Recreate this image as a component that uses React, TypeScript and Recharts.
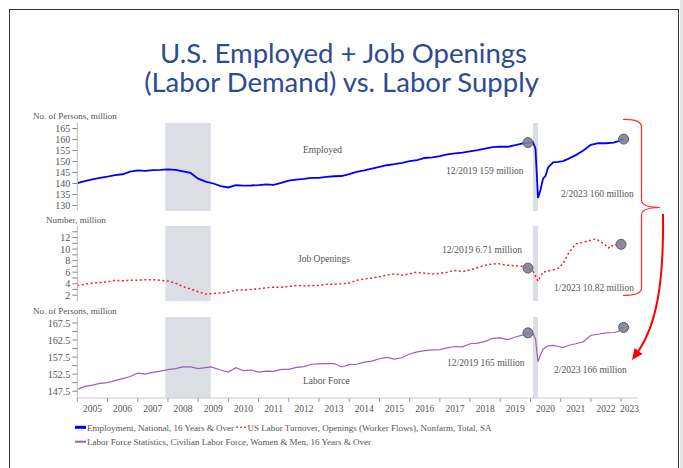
import { LineChart, Line, XAxis, YAxis, ReferenceArea, ReferenceDot } from 'recharts'

// monthly readings (YYYY-MM), millions
const empDates = [
  '2005-01', '2005-04', '2005-07', '2005-10', '2006-01', '2006-04', '2006-07', '2006-10',
  '2007-01', '2007-04', '2007-07', '2007-10', '2008-01', '2008-04', '2008-07', '2008-10',
  '2009-01', '2009-04', '2009-07', '2009-10', '2010-01', '2010-04', '2010-07', '2010-10',
  '2011-01', '2011-04', '2011-07', '2011-10', '2012-01', '2012-04', '2012-07', '2012-10',
  '2013-01', '2013-04', '2013-07', '2013-10', '2014-01', '2014-04', '2014-07', '2014-10',
  '2015-01', '2015-04', '2015-07', '2015-10', '2016-01', '2016-04', '2016-07', '2016-10',
  '2017-01', '2017-04', '2017-07', '2017-10', '2018-01', '2018-04', '2018-07', '2018-10',
  '2019-01', '2019-04', '2019-07', '2019-10', '2019-12', '2020-02', '2020-03', '2020-04',
  '2020-05', '2020-06', '2020-07', '2020-08', '2020-10', '2020-12', '2021-02', '2021-04',
  '2021-07', '2021-10', '2022-01', '2022-04', '2022-07', '2022-10', '2022-12', '2023-01', '2023-02',
]
const empValues = [
  140.2, 141.1, 141.9, 142.6, 143.1, 143.8, 144.2, 145.4,
  146.0, 145.7, 146.1, 146.2, 146.4, 146.2, 145.5, 144.8,
  142.2, 140.9, 140.0, 138.8, 138.2, 139.2, 139.0, 139.1,
  139.3, 139.6, 139.4, 140.3, 141.3, 141.8, 142.1, 142.6,
  142.6, 143.0, 143.3, 143.4, 144.3, 145.3, 146.0, 146.8,
  147.6, 148.3, 148.8, 149.4, 150.2, 150.6, 151.6, 151.9,
  152.4, 153.2, 153.7, 154.0, 154.6, 155.2, 155.9, 156.5,
  156.8, 156.7, 157.4, 158.2, 158.6, 158.8, 155.8, 133.4,
  137.2, 142.2, 143.5, 147.3, 149.6, 149.8, 150.2, 151.2,
  152.9, 155.0, 157.6, 158.3, 158.3, 158.6, 159.3, 159.8, 160.2,
]

const openDates = [
  '2005-01', '2005-04', '2005-07', '2005-10', '2006-01', '2006-04', '2006-07', '2006-10',
  '2007-01', '2007-04', '2007-07', '2007-10', '2008-01', '2008-04', '2008-07', '2008-10',
  '2009-01', '2009-04', '2009-07', '2009-10', '2010-01', '2010-04', '2010-07', '2010-10',
  '2011-01', '2011-04', '2011-07', '2011-10', '2012-01', '2012-04', '2012-07', '2012-10',
  '2013-01', '2013-04', '2013-07', '2013-10', '2014-01', '2014-04', '2014-07', '2014-10',
  '2015-01', '2015-04', '2015-07', '2015-10', '2016-01', '2016-04', '2016-07', '2016-10',
  '2017-01', '2017-04', '2017-07', '2017-10', '2018-01', '2018-04', '2018-07', '2018-10',
  '2018-12', '2019-01', '2019-04', '2019-07', '2019-10', '2019-12', '2020-02', '2020-04',
  '2020-06', '2020-08', '2020-10', '2020-12', '2021-02', '2021-04', '2021-07', '2021-10',
  '2021-12', '2022-03', '2022-05', '2022-06', '2022-08', '2022-09', '2022-10', '2022-12', '2023-01',
]
const openValues = [
  3.7, 3.9, 4.1, 4.2, 4.3, 4.6, 4.5, 4.6,
  4.6, 4.7, 4.7, 4.6, 4.45, 4.1, 3.5, 3.1,
  2.6, 2.2, 2.3, 2.4, 2.55, 2.9, 2.9, 3.0,
  3.1, 3.3, 3.4, 3.4, 3.55, 3.7, 3.6, 3.7,
  3.7, 3.9, 3.9, 4.0, 4.1, 4.6, 4.8, 5.0,
  5.2, 5.5, 5.7, 5.5, 5.7, 6.0, 5.8, 5.7,
  5.8, 6.0, 6.3, 6.1, 6.4, 6.8, 7.2, 7.4,
  7.5, 7.4, 7.2, 7.1, 7.0, 6.71, 6.2, 4.45,
  6.0, 6.2, 6.4, 6.7, 7.5, 9.2, 10.9, 11.2,
  11.4, 11.8, 11.2, 11.0, 10.2, 10.7, 10.5, 11.0, 10.82,
]

const lfDates = [
  '2005-01', '2005-04', '2005-07', '2005-10', '2006-01', '2006-04', '2006-07', '2006-10',
  '2007-01', '2007-04', '2007-07', '2007-10', '2008-01', '2008-04', '2008-07', '2008-10',
  '2009-01', '2009-04', '2009-06', '2009-10', '2010-01', '2010-04', '2010-07', '2010-10',
  '2011-01', '2011-04', '2011-07', '2011-10', '2012-01', '2012-04', '2012-07', '2012-10',
  '2013-01', '2013-04', '2013-07', '2013-10', '2014-01', '2014-04', '2014-07', '2014-10',
  '2015-01', '2015-04', '2015-07', '2015-10', '2016-01', '2016-04', '2016-07', '2016-10',
  '2017-01', '2017-04', '2017-07', '2017-10', '2018-01', '2018-04', '2018-07', '2018-10',
  '2019-01', '2019-04', '2019-07', '2019-10', '2019-12', '2020-02', '2020-03', '2020-04',
  '2020-05', '2020-06', '2020-08', '2020-10', '2020-12', '2021-02', '2021-04', '2021-07',
  '2021-10', '2022-01', '2022-04', '2022-07', '2022-10', '2022-12', '2023-01', '2023-02',
]
const lfValues = [
  148.0, 148.9, 149.3, 149.8, 150.0, 150.6, 151.2, 151.8,
  152.8, 152.5, 153.0, 153.4, 153.8, 154.1, 154.6, 154.6,
  154.1, 154.4, 154.6, 153.7, 153.1, 154.4, 153.5, 153.7,
  153.1, 153.4, 153.3, 153.9, 153.9, 154.5, 154.7, 155.4,
  155.5, 155.6, 155.6, 154.6, 155.3, 155.4, 156.0, 156.3,
  157.0, 157.4, 156.9, 157.3, 158.4, 159.0, 159.4, 159.6,
  159.7, 160.2, 160.6, 160.5, 161.4, 161.6, 162.1, 163.0,
  163.1, 162.6, 163.4, 164.0, 164.6, 164.5, 162.8, 156.1,
  158.2, 159.8, 160.8, 160.9, 160.6, 160.3, 160.9, 161.4,
  162.0, 163.9, 164.2, 164.6, 164.7, 165.0, 165.8, 166.2,
]

const recessions = [
  { start: '2007-12', end: '2009-06' },
  { start: '2020-02', end: '2020-04' },
]

const yearTicks = [
  2005, 2006, 2007, 2008, 2009, 2010, 2011, 2012, 2013, 2014,
  2015, 2016, 2017, 2018, 2019, 2020, 2021, 2022, 2023,
]
const empTicks = [130, 135, 140, 145, 150, 155, 160, 165]
const openTicks = [2, 3, 4, 5, 6, 7, 8, 9, 10, 11, 12, 13]
const lfTicks = [147.5, 150, 152.5, 155, 157.5, 160, 162.5, 165, 167.5]
const lfLabelled = [147.5, 152.5, 157.5, 162.5, 167.5]

const X_MIN = 2005
const X_MAX = 2023.55
const PLOT_LEFT = 77.3
const PLOT_RIGHT = 637.7
const SERIF = '"Liberation Serif", "Times New Roman", serif'
const TEXT = '#555'

const toYear = (d: string) => {
  const [y, m] = d.split('-').map(Number)
  return y + (m - 1) / 12
}

const build = (dates: string[], values: number[]) =>
  dates.map((d, i) => ({ t: toYear(d), v: values[i] }))

const pick = (dates: string[], values: number[], keys: string[]) =>
  keys.map((k) => ({ t: toYear(k), v: values[dates.indexOf(k)] }))

const pxPerYear = (PLOT_RIGHT - PLOT_LEFT) / (X_MAX - X_MIN)

// year labels sit in the middle of each year, not on the tick
const YearTick = (props: any) => {
  const { x, y, payload } = props
  const v = payload.value as number
  const span = v + 1 > X_MAX ? X_MAX - v : 1
  return (
    <text x={x + (span * pxPerYear) / 2} y={y} dy={8} textAnchor="middle" fontSize={9.5} fill={TEXT} fontFamily={SERIF}>
      {v}
    </text>
  )
}

interface PanelProps {
  top: number
  plotHeight: number
  data: { t: number; v: number }[]
  markers: { t: number; v: number }[]
  stroke: string
  strokeWidth: number
  dash?: string
  yDomain: [number, number]
  yTicks: number[]
  yFormat: (v: number) => string
  showYears?: boolean
}

function Panel({ top, plotHeight, data, markers, stroke, strokeWidth, dash, yDomain, yTicks, yFormat, showYears }: PanelProps) {
  const axisH = showYears ? 20 : 0
  const height = 10 + plotHeight + axisH + 5
  return (
    <div style={{ position: 'absolute', left: 0, top: top - 10, width: 683, height }}>
      <LineChart width={683} height={height} data={data} margin={{ top: 10, right: 683 - PLOT_RIGHT, left: PLOT_LEFT - 40, bottom: 5 }}>
        <XAxis
          dataKey="t"
          type="number"
          domain={[X_MIN, X_MAX]}
          allowDataOverflow
          ticks={showYears ? yearTicks : []}
          interval={0}
          height={axisH}
          tick={showYears ? YearTick : false}
          tickLine={showYears ? { stroke: '#999' } : false}
          tickSize={4}
          axisLine={{ stroke: '#c8c8c8' }}
        />
        <YAxis
          width={40}
          domain={yDomain}
          ticks={yTicks}
          interval={0}
          allowDataOverflow
          tickFormatter={yFormat}
          tickSize={5}
          tickMargin={2}
          axisLine={{ stroke: '#bbb' }}
          tickLine={{ stroke: '#888' }}
          tick={{ fontSize: 10, fill: TEXT, fontFamily: SERIF }}
        />
        {recessions.map((r) => (
          <ReferenceArea key={r.start} x1={toYear(r.start)} x2={toYear(r.end)} fill="#dcdee6" fillOpacity={1} stroke="none" />
        ))}
        {markers.map((m) => (
          <ReferenceDot key={m.t} x={m.t} y={m.v} r={5} fill="#7d8291" fillOpacity={0.9} stroke="#5d6170" strokeWidth={1} />
        ))}
        <Line
          dataKey="v"
          type="linear"
          stroke={stroke}
          strokeWidth={strokeWidth}
          strokeDasharray={dash}
          dot={false}
          isAnimationActive={false}
        />
      </LineChart>
    </div>
  )
}

const notes = [
  { x: 33, y: 119, text: 'No. of Persons, million', size: 9 },
  { x: 46, y: 223, text: 'Number, million', size: 9 },
  { x: 33, y: 313.5, text: 'No. of Persons, million', size: 9 },
  { x: 303, y: 152.5, text: 'Employed', size: 9.5 },
  { x: 446, y: 174, text: '12/2019 159 million', size: 9.5 },
  { x: 561, y: 196.5, text: '2/2023 160 million', size: 9.5 },
  { x: 298, y: 261.5, text: 'Job Openings', size: 9.5 },
  { x: 442, y: 252.7, text: '12/2019 6.71 million', size: 9.5 },
  { x: 554, y: 290.7, text: '1/2023 10.82 million', size: 9.5 },
  { x: 303, y: 383.5, text: 'Labor Force', size: 9.5 },
  { x: 447, y: 366, text: '12/2019 165 million', size: 9.5 },
  { x: 554, y: 372.5, text: '2/2023 166 million', size: 9.5 },
]

export default function App() {
  const emp = build(empDates, empValues)
  const open = build(openDates, openValues)
  const lf = build(lfDates, lfValues)
  return (
    <div style={{ position: 'absolute', left: 0, top: 0, width: 683, height: 468, background: '#fff', overflow: 'hidden' }}>
      <div style={{ position: 'absolute', left: 680, top: 0, width: 3, height: 468, background: '#e6e6e6' }} />
      <div style={{ position: 'absolute', left: 9, top: 9, width: 668, height: 480, border: '1.5px solid #333' }} />

      <Panel
        top={122.7}
        plotHeight={88}
        data={emp}
        markers={pick(empDates, empValues, ['2019-12', '2023-02'])}
        stroke="#0000ff"
        strokeWidth={1.8}
        yDomain={[127.5, 167.5]}
        yTicks={empTicks}
        yFormat={(v) => String(v)}
      />
      <Panel
        top={225.7}
        plotHeight={75}
        data={open}
        markers={pick(openDates, openValues, ['2019-12', '2023-01'])}
        stroke="#ff1a1a"
        strokeWidth={1.5}
        dash="2 2.5"
        yDomain={[1, 14]}
        yTicks={openTicks}
        yFormat={(v) => (v % 2 === 0 ? String(v) : '')}
      />
      <Panel
        top={316.7}
        plotHeight={81}
        data={lf}
        markers={pick(lfDates, lfValues, ['2019-12', '2023-02'])}
        stroke="#9b5fc0"
        strokeWidth={1.2}
        yDomain={[145.5, 169.25]}
        yTicks={lfTicks}
        yFormat={(v) => (lfLabelled.includes(v) ? v.toFixed(1) : '')}
        showYears
      />

      <svg width={683} height={468} style={{ position: 'absolute', left: 0, top: 0, pointerEvents: 'none' }}>
        <text x={343.5} y={62.5} textAnchor="middle" fontFamily="Lato, sans-serif" fontSize={27.5} fill="#2d4b92">
          U.S. Employed + Job Openings
        </text>
        <text x={341.5} y={92} textAnchor="middle" fontFamily="Lato, sans-serif" fontSize={27.5} fill="#2d4b92">
          (Labor Demand) vs. Labor Supply
        </text>

        {notes.map((n) => (
          <text key={n.text + n.y} x={n.x} y={n.y} fontSize={n.size} fill={TEXT} fontFamily={SERIF}>
            {n.text}
          </text>
        ))}

        {/* bracket + arrow */}
        <path
          d="M623,119.5 Q641.5,119 641.5,127 L641.5,200 Q642,207.5 660,207.5 Q642,207.5 641.5,215 L641.5,288 Q641.5,295.5 623,295.5"
          fill="none"
          stroke="#ff2a2a"
          strokeWidth={1.2}
        />
        <path d="M663,214 C664,285 656,325 638.5,351" fill="none" stroke="#ff0000" strokeWidth={2} />
        <polygon points="632,360 642.5,354.1 634.5,348.1" fill="#ff0000" />

        {/* legend */}
        <line x1={75} x2={86} y1={427.3} y2={427.3} stroke="#0000ff" strokeWidth={3} />
        <text x={87} y={430.5} fontSize={9} fill={TEXT} fontFamily={SERIF}>Employment, National, 16 Years &amp; Over</text>
        <line x1={236} x2={247} y1={427.3} y2={427.3} stroke="#ff4040" strokeWidth={1.5} strokeDasharray="2 2" />
        <text x={247.5} y={430.5} fontSize={9} fill={TEXT} fontFamily={SERIF}>
          US Labor Turnover, Openings (Worker Flows), Nonfarm, Total, SA
        </text>
        <line x1={75} x2={86} y1={441.7} y2={441.7} stroke="#9b5fc0" strokeWidth={2} />
        <text x={87} y={444.9} fontSize={9} fill={TEXT} fontFamily={SERIF}>
          Labor Force Statistics, Civilian Labor Force, Women &amp; Men, 16 Years &amp; Over
        </text>
      </svg>
    </div>
  )
}
